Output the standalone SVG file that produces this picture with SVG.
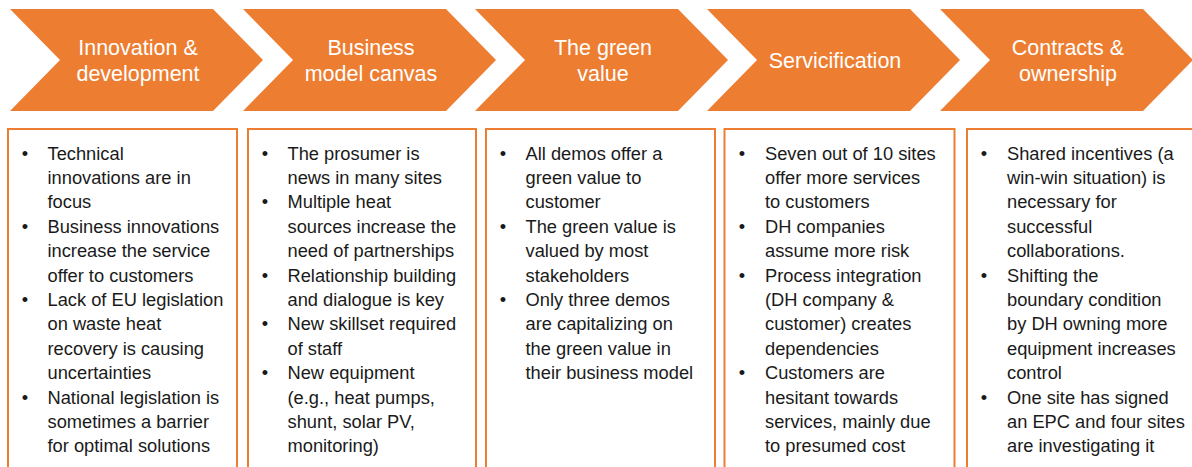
<svg xmlns="http://www.w3.org/2000/svg" width="1192" height="467" viewBox="0 0 1192 467">
<style>
.chev{fill:#ED7D31;}
.ct{font-family:"Liberation Sans",Arial,sans-serif;font-size:21.5px;fill:#FFFFFF;text-anchor:middle;}
.box{fill:#FFFFFF;stroke:#ED7D31;stroke-width:2;}
.bt{font-family:"Liberation Sans",Arial,sans-serif;font-size:18.3px;fill:#1A1A1A;}
.bl{font-family:"Liberation Sans",Arial,sans-serif;font-size:18.3px;fill:#1A1A1A;text-anchor:middle;}
</style>
<rect width="1192" height="467" fill="#FFFFFF"/>
<g id="chevron1">
<polygon class="chev" points="10,9 213,9 263,60 213,111 10,111 60,60"/>
<text class="ct"><tspan x="138" y="54.5">Innovation &amp;</tspan><tspan x="138" y="80.5">development</tspan></text>
</g>
<g id="chevron2">
<polygon class="chev" points="243,9 446,9 496,60 446,111 243,111 293,60"/>
<text class="ct"><tspan x="371" y="54.5">Business</tspan><tspan x="371" y="80.5">model canvas</tspan></text>
</g>
<g id="chevron3">
<polygon class="chev" points="475,9 678,9 728,60 678,111 475,111 525,60"/>
<text class="ct"><tspan x="603" y="54.5">The green</tspan><tspan x="603" y="80.5">value</tspan></text>
</g>
<g id="chevron4">
<polygon class="chev" points="707,9 910,9 960,60 910,111 707,111 757,60"/>
<text class="ct"><tspan x="835" y="67.5">Servicification</tspan></text>
</g>
<g id="chevron5">
<polygon class="chev" points="940,9 1143,9 1193,60 1143,111 940,111 990,60"/>
<text class="ct"><tspan x="1068" y="54.5">Contracts &amp;</tspan><tspan x="1068" y="80.5">ownership</tspan></text>
</g>
<g id="connectors"></g>
<g id="box1">
<rect class="box" x="8" y="129" width="229" height="350"/>
<text class="bl"><tspan x="25" y="159.5">•</tspan><tspan x="25" y="232.7">•</tspan><tspan x="25" y="305.9">•</tspan><tspan x="25" y="403.5">•</tspan></text>
<text class="bt">
<tspan x="47.5" y="159.5">Technical</tspan>
<tspan x="47.5" y="183.9">innovations are in</tspan>
<tspan x="47.5" y="208.3">focus</tspan>
<tspan x="47.5" y="232.7">Business innovations</tspan>
<tspan x="47.5" y="257.1">increase the service</tspan>
<tspan x="47.5" y="281.5">offer to customers</tspan>
<tspan x="47.5" y="305.9">Lack of EU legislation</tspan>
<tspan x="47.5" y="330.3">on waste heat</tspan>
<tspan x="47.5" y="354.7">recovery is causing</tspan>
<tspan x="47.5" y="379.1">uncertainties</tspan>
<tspan x="47.5" y="403.5">National legislation is</tspan>
<tspan x="47.5" y="427.9">sometimes a barrier</tspan>
<tspan x="47.5" y="452.3">for optimal solutions</tspan>
</text>
</g>
<g id="box2">
<rect class="box" x="248" y="129" width="228" height="350"/>
<text class="bl"><tspan x="265" y="159.5">•</tspan><tspan x="265" y="208.3">•</tspan><tspan x="265" y="281.5">•</tspan><tspan x="265" y="330.3">•</tspan><tspan x="265" y="379.1">•</tspan></text>
<text class="bt">
<tspan x="287.5" y="159.5">The prosumer is</tspan>
<tspan x="287.5" y="183.9">news in many sites</tspan>
<tspan x="287.5" y="208.3">Multiple heat</tspan>
<tspan x="287.5" y="232.7">sources increase the</tspan>
<tspan x="287.5" y="257.1">need of partnerships</tspan>
<tspan x="287.5" y="281.5">Relationship building</tspan>
<tspan x="287.5" y="305.9">and dialogue is key</tspan>
<tspan x="287.5" y="330.3">New skillset required</tspan>
<tspan x="287.5" y="354.7">of staff</tspan>
<tspan x="287.5" y="379.1">New equipment</tspan>
<tspan x="287.5" y="403.5">(e.g., heat pumps,</tspan>
<tspan x="287.5" y="427.9">shunt, solar PV,</tspan>
<tspan x="287.5" y="452.3">monitoring)</tspan>
</text>
</g>
<g id="box3">
<rect class="box" x="486" y="129" width="229" height="350"/>
<text class="bl"><tspan x="503" y="159.5">•</tspan><tspan x="503" y="232.7">•</tspan><tspan x="503" y="305.9">•</tspan></text>
<text class="bt">
<tspan x="525.5" y="159.5">All demos offer a</tspan>
<tspan x="525.5" y="183.9">green value to</tspan>
<tspan x="525.5" y="208.3">customer</tspan>
<tspan x="525.5" y="232.7">The green value is</tspan>
<tspan x="525.5" y="257.1">valued by most</tspan>
<tspan x="525.5" y="281.5">stakeholders</tspan>
<tspan x="525.5" y="305.9">Only three demos</tspan>
<tspan x="525.5" y="330.3">are capitalizing on</tspan>
<tspan x="525.5" y="354.7">the green value in</tspan>
<tspan x="525.5" y="379.1">their business model</tspan>
</text>
</g>
<g id="box4">
<rect class="box" x="724.5" y="129" width="230" height="350"/>
<text class="bl"><tspan x="742" y="159.5">•</tspan><tspan x="742" y="232.7">•</tspan><tspan x="742" y="281.5">•</tspan><tspan x="742" y="379.1">•</tspan></text>
<text class="bt">
<tspan x="765" y="159.5">Seven out of 10 sites</tspan>
<tspan x="765" y="183.9">offer more services</tspan>
<tspan x="765" y="208.3">to customers</tspan>
<tspan x="765" y="232.7">DH companies</tspan>
<tspan x="765" y="257.1">assume more risk</tspan>
<tspan x="765" y="281.5">Process integration</tspan>
<tspan x="765" y="305.9">(DH company &amp;</tspan>
<tspan x="765" y="330.3">customer) creates</tspan>
<tspan x="765" y="354.7">dependencies</tspan>
<tspan x="765" y="379.1">Customers are</tspan>
<tspan x="765" y="403.5">hesitant towards</tspan>
<tspan x="765" y="427.9">services, mainly due</tspan>
<tspan x="765" y="452.3">to presumed cost</tspan>
</text>
</g>
<g id="box5">
<rect class="box" x="967" y="129" width="230" height="350"/>
<text class="bl"><tspan x="984" y="159.5">•</tspan><tspan x="984" y="281.5">•</tspan><tspan x="984" y="403.5">•</tspan></text>
<text class="bt">
<tspan x="1007" y="159.5">Shared incentives (a</tspan>
<tspan x="1007" y="183.9">win-win situation) is</tspan>
<tspan x="1007" y="208.3">necessary for</tspan>
<tspan x="1007" y="232.7">successful</tspan>
<tspan x="1007" y="257.1">collaborations.</tspan>
<tspan x="1007" y="281.5">Shifting the</tspan>
<tspan x="1007" y="305.9">boundary condition</tspan>
<tspan x="1007" y="330.3">by DH owning more</tspan>
<tspan x="1007" y="354.7">equipment increases</tspan>
<tspan x="1007" y="379.1">control</tspan>
<tspan x="1007" y="403.5">One site has signed</tspan>
<tspan x="1007" y="427.9">an EPC and four sites</tspan>
<tspan x="1007" y="452.3">are investigating it</tspan>
</text>
</g>
</svg>
